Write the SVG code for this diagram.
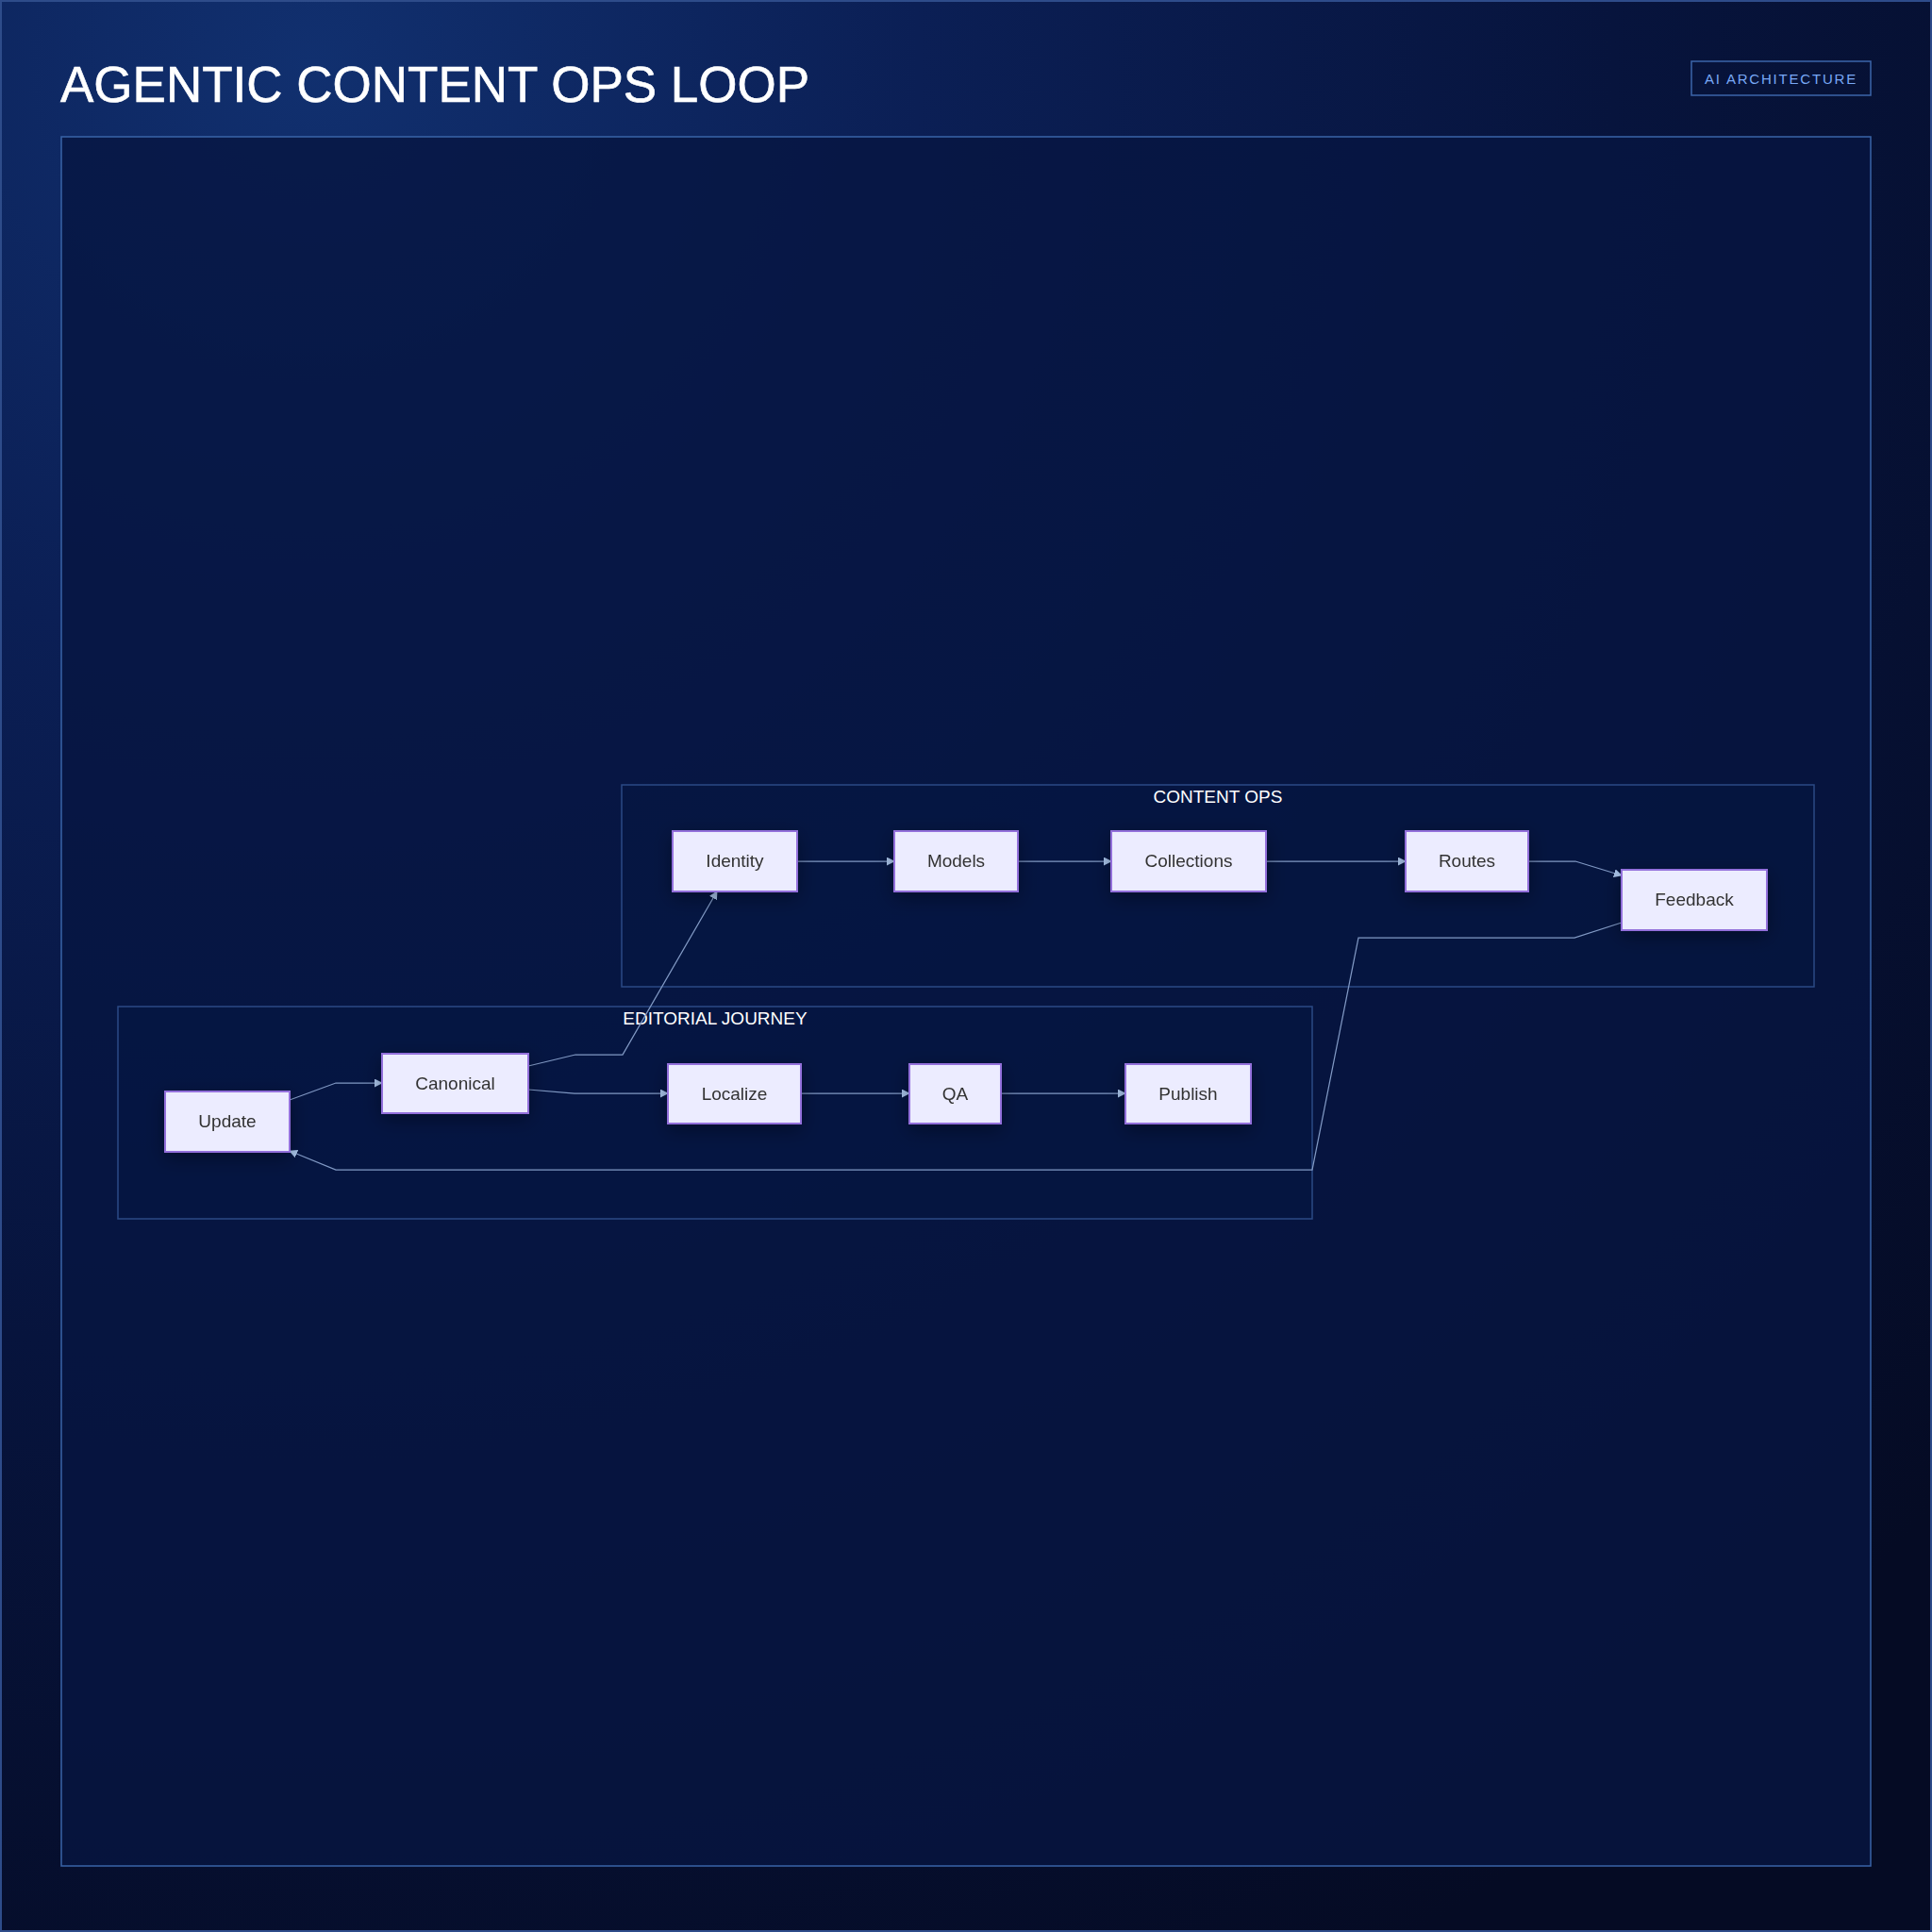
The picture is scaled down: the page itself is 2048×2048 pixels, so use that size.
<svg xmlns="http://www.w3.org/2000/svg" width="2048" height="2048" viewBox="0 0 2048 2048">
<defs>
<radialGradient id="bg" gradientUnits="userSpaceOnUse" cx="330" cy="70" r="2300">
<stop offset="0" stop-color="#11306f"/>
<stop offset="0.28" stop-color="#0b1f55"/>
<stop offset="0.6" stop-color="#07143d"/>
<stop offset="1" stop-color="#050b24"/>
</radialGradient>
<filter id="sh" x="-30%" y="-40%" width="160%" height="190%">
<feDropShadow dx="0" dy="6" stdDeviation="10" flood-color="#000010" flood-opacity="0.35"/>
</filter>
<marker id="ah" viewBox="0 0 10 10" refX="9" refY="5" markerWidth="9" markerHeight="9" markerUnits="userSpaceOnUse" orient="auto">
<path d="M0,0 L10,5 L0,10 z" fill="#a9c4ea"/>
</marker>
<style>
.node rect{fill:#ececff;stroke:#9370db;stroke-width:2;}
.node text{font-family:"Liberation Sans",Arial,sans-serif;font-size:19px;fill:#333333;text-anchor:middle;}
.sg rect{fill:#071741;fill-opacity:0.35;stroke:#2b4a85;stroke-width:1.5;}
.sg text{font-family:"Liberation Sans",Arial,sans-serif;font-size:19px;fill:#ffffff;text-anchor:middle;}
.edges path{fill:none;stroke:#8199c4;stroke-width:1.25;marker-end:url(#ah);}
</style>
</defs>
<rect x="0" y="0" width="2048" height="2048" fill="url(#bg)"/>
<rect x="1" y="1" width="2046" height="2046" fill="none" stroke="#2e4c8a" stroke-width="2"/>
<text x="64" y="108" font-family="'Liberation Sans',Arial,sans-serif" font-size="53" fill="#ffffff" stroke="#ffffff" stroke-width="0.6">AGENTIC CONTENT OPS LOOP</text>
<g id="badge">
<rect x="1793" y="65" width="190" height="36" fill="none" stroke="#3d66aa" stroke-width="1.5"/>
<text x="1888" y="89" font-family="'Liberation Sans',Arial,sans-serif" font-size="15" letter-spacing="1.8" fill="#78a8f5" text-anchor="middle">AI ARCHITECTURE</text>
</g>
<rect id="panel" x="65" y="145" width="1918" height="1833" fill="#061541" fill-opacity="0.8" stroke="#3a64a8" stroke-width="1.5"/>
<g id="sg-content-ops" class="sg">
<rect x="659" y="832" width="1264" height="214"/>
<text x="1291" y="851">CONTENT OPS</text>
</g>
<g id="sg-editorial-journey" class="sg">
<rect x="125" y="1067" width="1266" height="225"/>
<text x="758" y="1086">EDITORIAL JOURNEY</text>
</g>
<g id="connectors" class="edges">
<path d="M845,913 L948,913"/>
<path d="M1079,913 L1178,913"/>
<path d="M1342,913 L1490,913"/>
<path d="M1620,913 L1670,913 L1719,928"/>
<path d="M1719,978 L1669,994 L1440,994 L1391,1240 L356,1240 L307,1220"/>
<path d="M307,1166 L356,1148 L405,1148"/>
<path d="M560,1130 L610,1118 L660,1118 L760,945"/>
<path d="M560,1155 L609,1159 L708,1159"/>
<path d="M849,1159 L964,1159"/>
<path d="M1061,1159 L1193,1159"/>
</g>
<g id="node-identity" class="node" filter="url(#sh)"><rect x="713" y="881" width="132" height="64"/><text x="779" y="919">Identity</text></g>
<g id="node-models" class="node" filter="url(#sh)"><rect x="948" y="881" width="131" height="64"/><text x="1013.5" y="919">Models</text></g>
<g id="node-collections" class="node" filter="url(#sh)"><rect x="1178" y="881" width="164" height="64"/><text x="1260" y="919">Collections</text></g>
<g id="node-routes" class="node" filter="url(#sh)"><rect x="1490" y="881" width="130" height="64"/><text x="1555" y="919">Routes</text></g>
<g id="node-feedback" class="node" filter="url(#sh)"><rect x="1719" y="922" width="154" height="64"/><text x="1796" y="960">Feedback</text></g>
<g id="node-update" class="node" filter="url(#sh)"><rect x="175" y="1157" width="132" height="64"/><text x="241" y="1195">Update</text></g>
<g id="node-canonical" class="node" filter="url(#sh)"><rect x="405" y="1117" width="155" height="63"/><text x="482.5" y="1155">Canonical</text></g>
<g id="node-localize" class="node" filter="url(#sh)"><rect x="708" y="1128" width="141" height="63"/><text x="778.5" y="1166">Localize</text></g>
<g id="node-qa" class="node" filter="url(#sh)"><rect x="964" y="1128" width="97" height="63"/><text x="1012.5" y="1166">QA</text></g>
<g id="node-publish" class="node" filter="url(#sh)"><rect x="1193" y="1128" width="133" height="63"/><text x="1259.5" y="1166">Publish</text></g>
</svg>
